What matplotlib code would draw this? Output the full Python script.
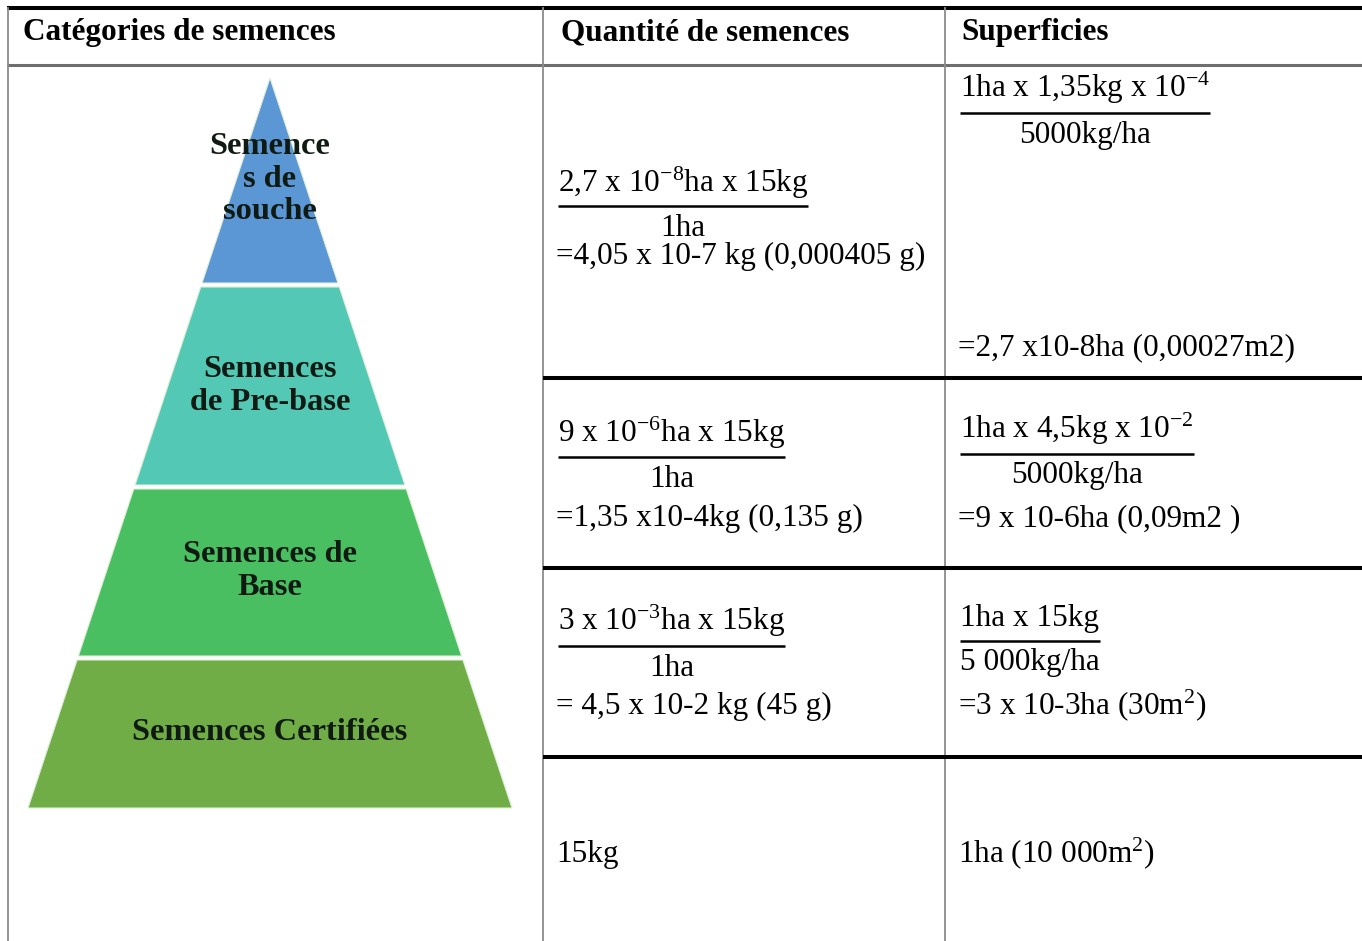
import matplotlib.pyplot as plt
from matplotlib.patches import Polygon

plt.rcParams['font.family'] = ['Liberation Serif', 'DejaVu Serif']
plt.rcParams['mathtext.fontset'] = 'custom'
plt.rcParams['mathtext.rm'] = 'Liberation Serif'
plt.rcParams['mathtext.it'] = 'Liberation Serif:italic'
plt.rcParams['mathtext.bf'] = 'Liberation Serif:bold'

# --- contenu du tableau ---
HEADERS = ["Catégories de semences", "Quantité de semences", "Superficies"]

LEVELS = ["Semence\ns de\nsouche", "Semences\nde Pre-base", "Semences de\nBase", "Semences Certifiées"]
LEVEL_COLORS = ['#5b97d5', '#53c9b5', '#4abf62', '#70ad47']

QTY_NUM = [r"2,7 x $\mathregular{10^{-8}}$ha x 15kg", r"9 x $\mathregular{10^{-6}}$ha x 15kg",
           r"3 x $\mathregular{10^{-3}}$ha x 15kg", None]
QTY_DEN = ["1ha", "1ha", "1ha", None]
QTY_RES = ["=4,05 x 10-7 kg (0,000405 g)", "=1,35 x10-4kg (0,135 g)", "= 4,5 x 10-2 kg (45 g)", "15kg"]

SUP_NUM = [r"1ha x 1,35kg x $\mathregular{10^{-4}}$", r"1ha x 4,5kg x $\mathregular{10^{-2}}$", "1ha x 15kg", None]
SUP_DEN = ["5000kg/ha", "5000kg/ha", "5 000kg/ha", None]
SUP_RES = ["=2,7 x10-8ha (0,00027m2)", "=9 x 10-6ha (0,09m2 )", r"=3 x 10-3ha (30$\mathregular{m^2}$)",
           r"1ha (10 000$\mathregular{m^2}$)"]

# --- mise en page (pixels) ---
W, H = 1362, 941
FS = 22.5
COL_X = [8, 543, 945]
ROW_Y = [378, 568, 757]
# baselines: numerateur, barre, denominateur, resultat
QTY_Y = [(192, 206, 236, 264), (442, 457, 487, 526), (630, 646, 676, 714), (None, None, None, 862)]
SUP_Y = [(97, 113, 143, 355), (438, 454, 483, 526), (626, 641, 670, 714), (None, None, None, 862)]

fig = plt.figure(figsize=(W / 100, H / 100), dpi=100)
ax = fig.add_axes([0, 0, 1, 1])
ax.set_xlim(0, W)
ax.set_ylim(H, 0)
ax.axis('off')
renderer = fig.canvas.get_renderer()

# bordures
ax.plot([7, W], [8, 8], color='black', lw=2.9, solid_capstyle='butt')
ax.plot([7, W], [65, 65], color='#6e6e6e', lw=2.2, solid_capstyle='butt')
for x in COL_X:
    ax.plot([x, x], [8, H], color='#8c8c8c', lw=1.3)
for y in ROW_Y:
    ax.plot([COL_X[1], W], [y, y], color='black', lw=2.9, solid_capstyle='butt')

for x, h in zip([23, 561, 961], HEADERS):
    ax.text(x, 40, h, fontsize=FS, fontweight='bold', ha='left', va='baseline')

# pyramide
apex_x, apex_y, base_y, base_half = 270, 78, 808, 242
edges = [78, 285, 487, 658, 808]
gap = 2.0
label_y = [179, 386, 571, 733]
slope = base_half / (base_y - apex_y)
for i, (lab, col) in enumerate(zip(LEVELS, LEVEL_COLORS)):
    top = edges[i] + (gap if i > 0 else 0)
    bot = edges[i + 1] - (gap if i < len(LEVELS) - 1 else 0)
    ht, hb = (top - apex_y) * slope, (bot - apex_y) * slope
    poly = Polygon([(apex_x - ht, top), (apex_x + ht, top), (apex_x + hb, bot), (apex_x - hb, bot)],
                   closed=True, facecolor=col, edgecolor='#dff0d8', lw=0.8)
    ax.add_patch(poly)
    ax.text(apex_x, label_y[i], lab, fontsize=FS + 0.8, fontweight='bold', color='#0f1a12',
            ha='center', va='center', linespacing=1.18)


def fraction(x0, yn, yb, yd, num, den):
    tn = ax.text(x0, yn, num, fontsize=FS, ha='left', va='baseline')
    td = ax.text(x0, yd, den, fontsize=FS, ha='left', va='baseline')
    wn = tn.get_window_extent(renderer).width
    wd = td.get_window_extent(renderer).width
    w = max(wn, wd)
    tn.set_x(x0 + (w - wn) / 2)
    td.set_x(x0 + (w - wd) / 2)
    ax.plot([x0, x0 + w], [yb, yb], color='black', lw=1.8, solid_capstyle='butt')


for col_x, nums, dens, res, ys in [(558, QTY_NUM, QTY_DEN, QTY_RES, QTY_Y),
                                    (960, SUP_NUM, SUP_DEN, SUP_RES, SUP_Y)]:
    for n, d, r, (yn, yb, yd, yr) in zip(nums, dens, res, ys):
        if n is not None:
            fraction(col_x, yn, yb, yd, n, d)
        ax.text(col_x - 2, yr, r, fontsize=FS, ha='left', va='baseline')

fig.savefig('out.png', dpi=100)
